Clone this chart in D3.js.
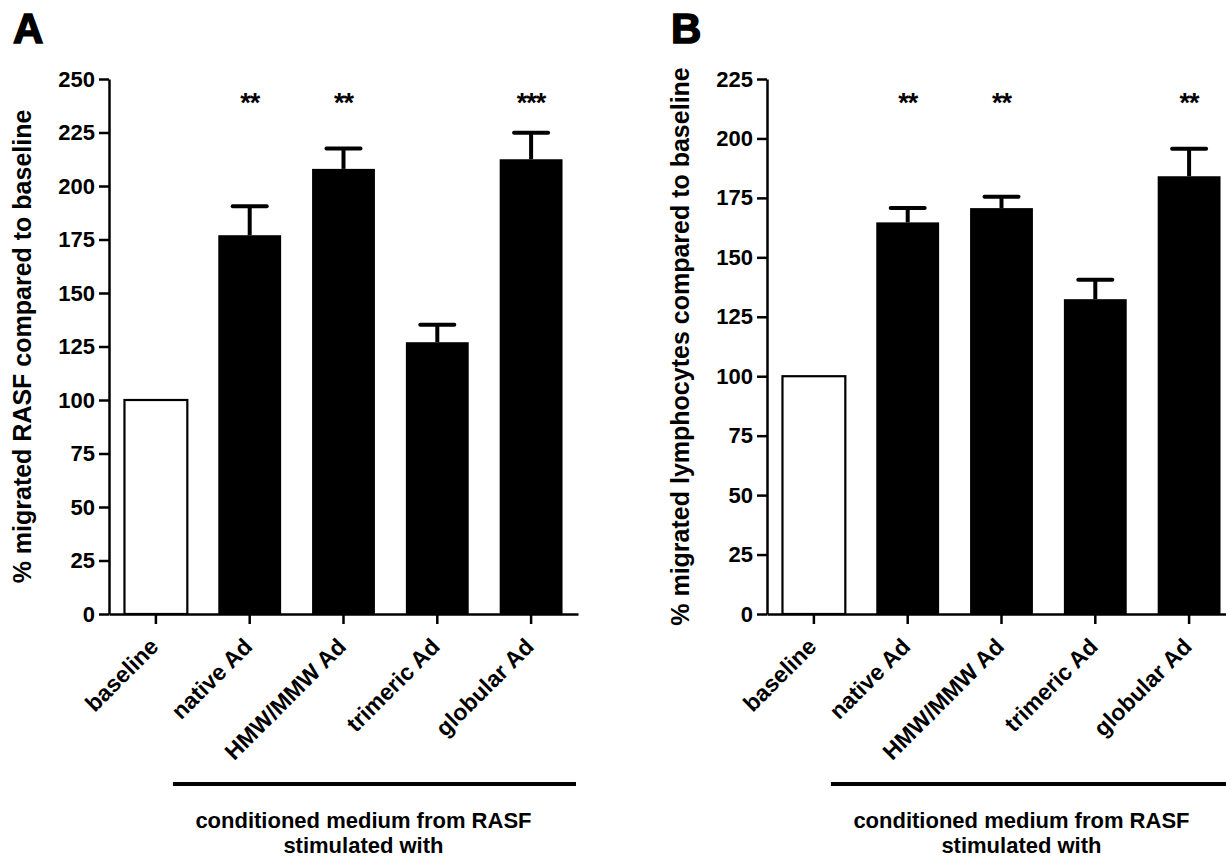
<!DOCTYPE html>
<html>
<head>
<meta charset="utf-8">
<script src="https://cdn.jsdelivr.net/npm/d3@7"></script>
<style>
  body { margin: 0; background: #fff; }
  svg { display: block; font-family: "Liberation Sans", Arial, sans-serif; font-weight: bold; }
</style>
</head>
<body>
<div id="chart"></div>
<script>
const categories = ["baseline", "native Ad", "HMW/MMW Ad", "trimeric Ad", "globular Ad"];

// panel A: RASF migration
const rasfMean = [100, 177, 208, 127, 212.5];
const rasfErr = [0, 13.5, 9.5, 8.2, 12.4];
const rasfStars = ["", "**", "**", "", "***"];
const rasfTicks = [0, 25, 50, 75, 100, 125, 150, 175, 200, 225, 250];

// panel B: lymphocyte migration
const lymphMean = [100, 164.7, 170.7, 132.4, 184.1];
const lymphErr = [0, 6, 4.8, 8.2, 11.6];
const lymphStars = ["", "**", "**", "", "**"];
const lymphTicks = [0, 25, 50, 75, 100, 125, 150, 175, 200, 225];

const W = 1226, H = 860;

const svg = d3.select("#chart")
  .append("svg")
  .attr("width", W)
  .attr("height", H);

drawPanel({
  letter: "A", left: 109, yMax: 250, ticks: rasfTicks,
  mean: rasfMean, err: rasfErr, stars: rasfStars,
  ylabel: "% migrated RASF compared to baseline"
});
drawPanel({
  letter: "B", left: 767, yMax: 225, ticks: lymphTicks,
  mean: lymphMean, err: lymphErr, stars: lymphStars,
  ylabel: "% migrated lymphocytes compared to baseline"
});

function drawPanel(p) {
  const top = 79, bottom = 614;
  const x = d3.scaleBand()
    .domain(categories)
    .range([p.left, p.left + 469])
    .paddingInner(0.33)
    .paddingOuter(0.165);
  const y = d3.scaleLinear().domain([0, p.yMax]).range([bottom, top]);

  const rows = categories.map((c, i) => ({ c, m: p.mean[i], e: p.err[i], s: p.stars[i], i }));

  const g = svg.append("g");

  // bars
  g.selectAll("rect.bar")
    .data(rows)
    .enter()
    .append("rect")
    .attr("class", "bar")
    .attr("x", (d) => x(d.c))
    .attr("width", x.bandwidth())
    .attr("y", (d) => y(d.m))
    .attr("height", (d) => y(0) - y(d.m))
    .attr("fill", (d) => (d.i === 0 ? "#fff" : "#000"))
    .attr("stroke", "#000")
    .attr("stroke-width", (d) => (d.i === 0 ? 2.2 : 0));

  // error bars (upper only)
  const eb = rows.filter((d) => d.e > 0);
  const cx = (d) => x(d.c) + x.bandwidth() / 2;
  g.selectAll("line.err")
    .data(eb)
    .enter()
    .append("line")
    .attr("x1", cx).attr("x2", cx)
    .attr("y1", (d) => y(d.m))
    .attr("y2", (d) => y(d.m + d.e))
    .attr("stroke", "#000")
    .attr("stroke-width", 4);
  g.selectAll("line.cap")
    .data(eb)
    .enter()
    .append("line")
    .attr("x1", (d) => cx(d) - 17).attr("x2", (d) => cx(d) + 17)
    .attr("y1", (d) => y(d.m + d.e))
    .attr("y2", (d) => y(d.m + d.e))
    .attr("stroke", "#000")
    .attr("stroke-width", 4)
    .attr("stroke-linecap", "round");

  // significance stars
  g.selectAll("text.star")
    .data(rows.filter((d) => d.s))
    .enter()
    .append("text")
    .attr("x", cx)
    .attr("y", top + 18)
    .attr("dy", "0.55em")
    .attr("text-anchor", "middle")
    .style("font-size", "27px")
    .style("letter-spacing", "-1px")
    .text((d) => d.s);

  // y axis
  const ya = g.append("g")
    .attr("transform", `translate(${p.left},0)`)
    .call(d3.axisLeft(y).tickValues(p.ticks).tickSize(10).tickSizeOuter(0).tickPadding(4));
  ya.select(".domain").attr("stroke-width", 2.5);
  ya.selectAll(".tick line").attr("stroke-width", 2.5);
  ya.selectAll(".tick text")
    .attr("fill", "#000")
    .style("font-size", "22px")
    .style("font-family", "'Liberation Sans', Arial, sans-serif")
    .style("font-weight", "bold");

  // x axis
  const xa = g.append("g")
    .attr("transform", `translate(0,${bottom})`)
    .call(d3.axisBottom(x).tickSize(10).tickSizeOuter(0));
  xa.select(".domain").attr("stroke-width", 2.5);
  xa.selectAll(".tick line").attr("stroke-width", 2.5);
  xa.selectAll(".tick text")
    .attr("y", null)
    .attr("dy", null)
    .attr("fill", "#000")
    .attr("text-anchor", "end")
    .attr("transform", "translate(4,34) rotate(-45)")
    .style("font-size", "23px")
    .style("font-family", "'Liberation Sans', Arial, sans-serif")
    .style("font-weight", "bold");

  // y label
  g.append("text")
    .attr("transform", `translate(${p.left - 78},${(top + bottom) / 2}) rotate(-90)`)
    .attr("text-anchor", "middle")
    .style("font-size", "25px")
    .text(p.ylabel);

  // panel letter
  g.append("text")
    .attr("x", p.left - 96)
    .attr("y", 43)
    .attr("stroke", "#000")
    .attr("stroke-width", 1.5)
    .style("font-size", "42px")
    .style("font-weight", 900)
    .text(p.letter);

  // bracket under treated groups
  const bx0 = cx(rows[0]) + 17;
  const bx1 = x.range()[1] - 2;
  g.append("line")
    .attr("x1", bx0).attr("x2", bx1)
    .attr("y1", 784).attr("y2", 784)
    .attr("stroke", "#000")
    .attr("stroke-width", 4);
  const tx = (bx0 + bx1) / 2 - 11;
  g.append("text")
    .attr("x", tx).attr("y", 828)
    .attr("text-anchor", "middle")
    .style("font-size", "22px")
    .text("conditioned medium from RASF");
  g.append("text")
    .attr("x", tx).attr("y", 853)
    .attr("text-anchor", "middle")
    .style("font-size", "22px")
    .text("stimulated with");
}
</script>
</body>
</html>
